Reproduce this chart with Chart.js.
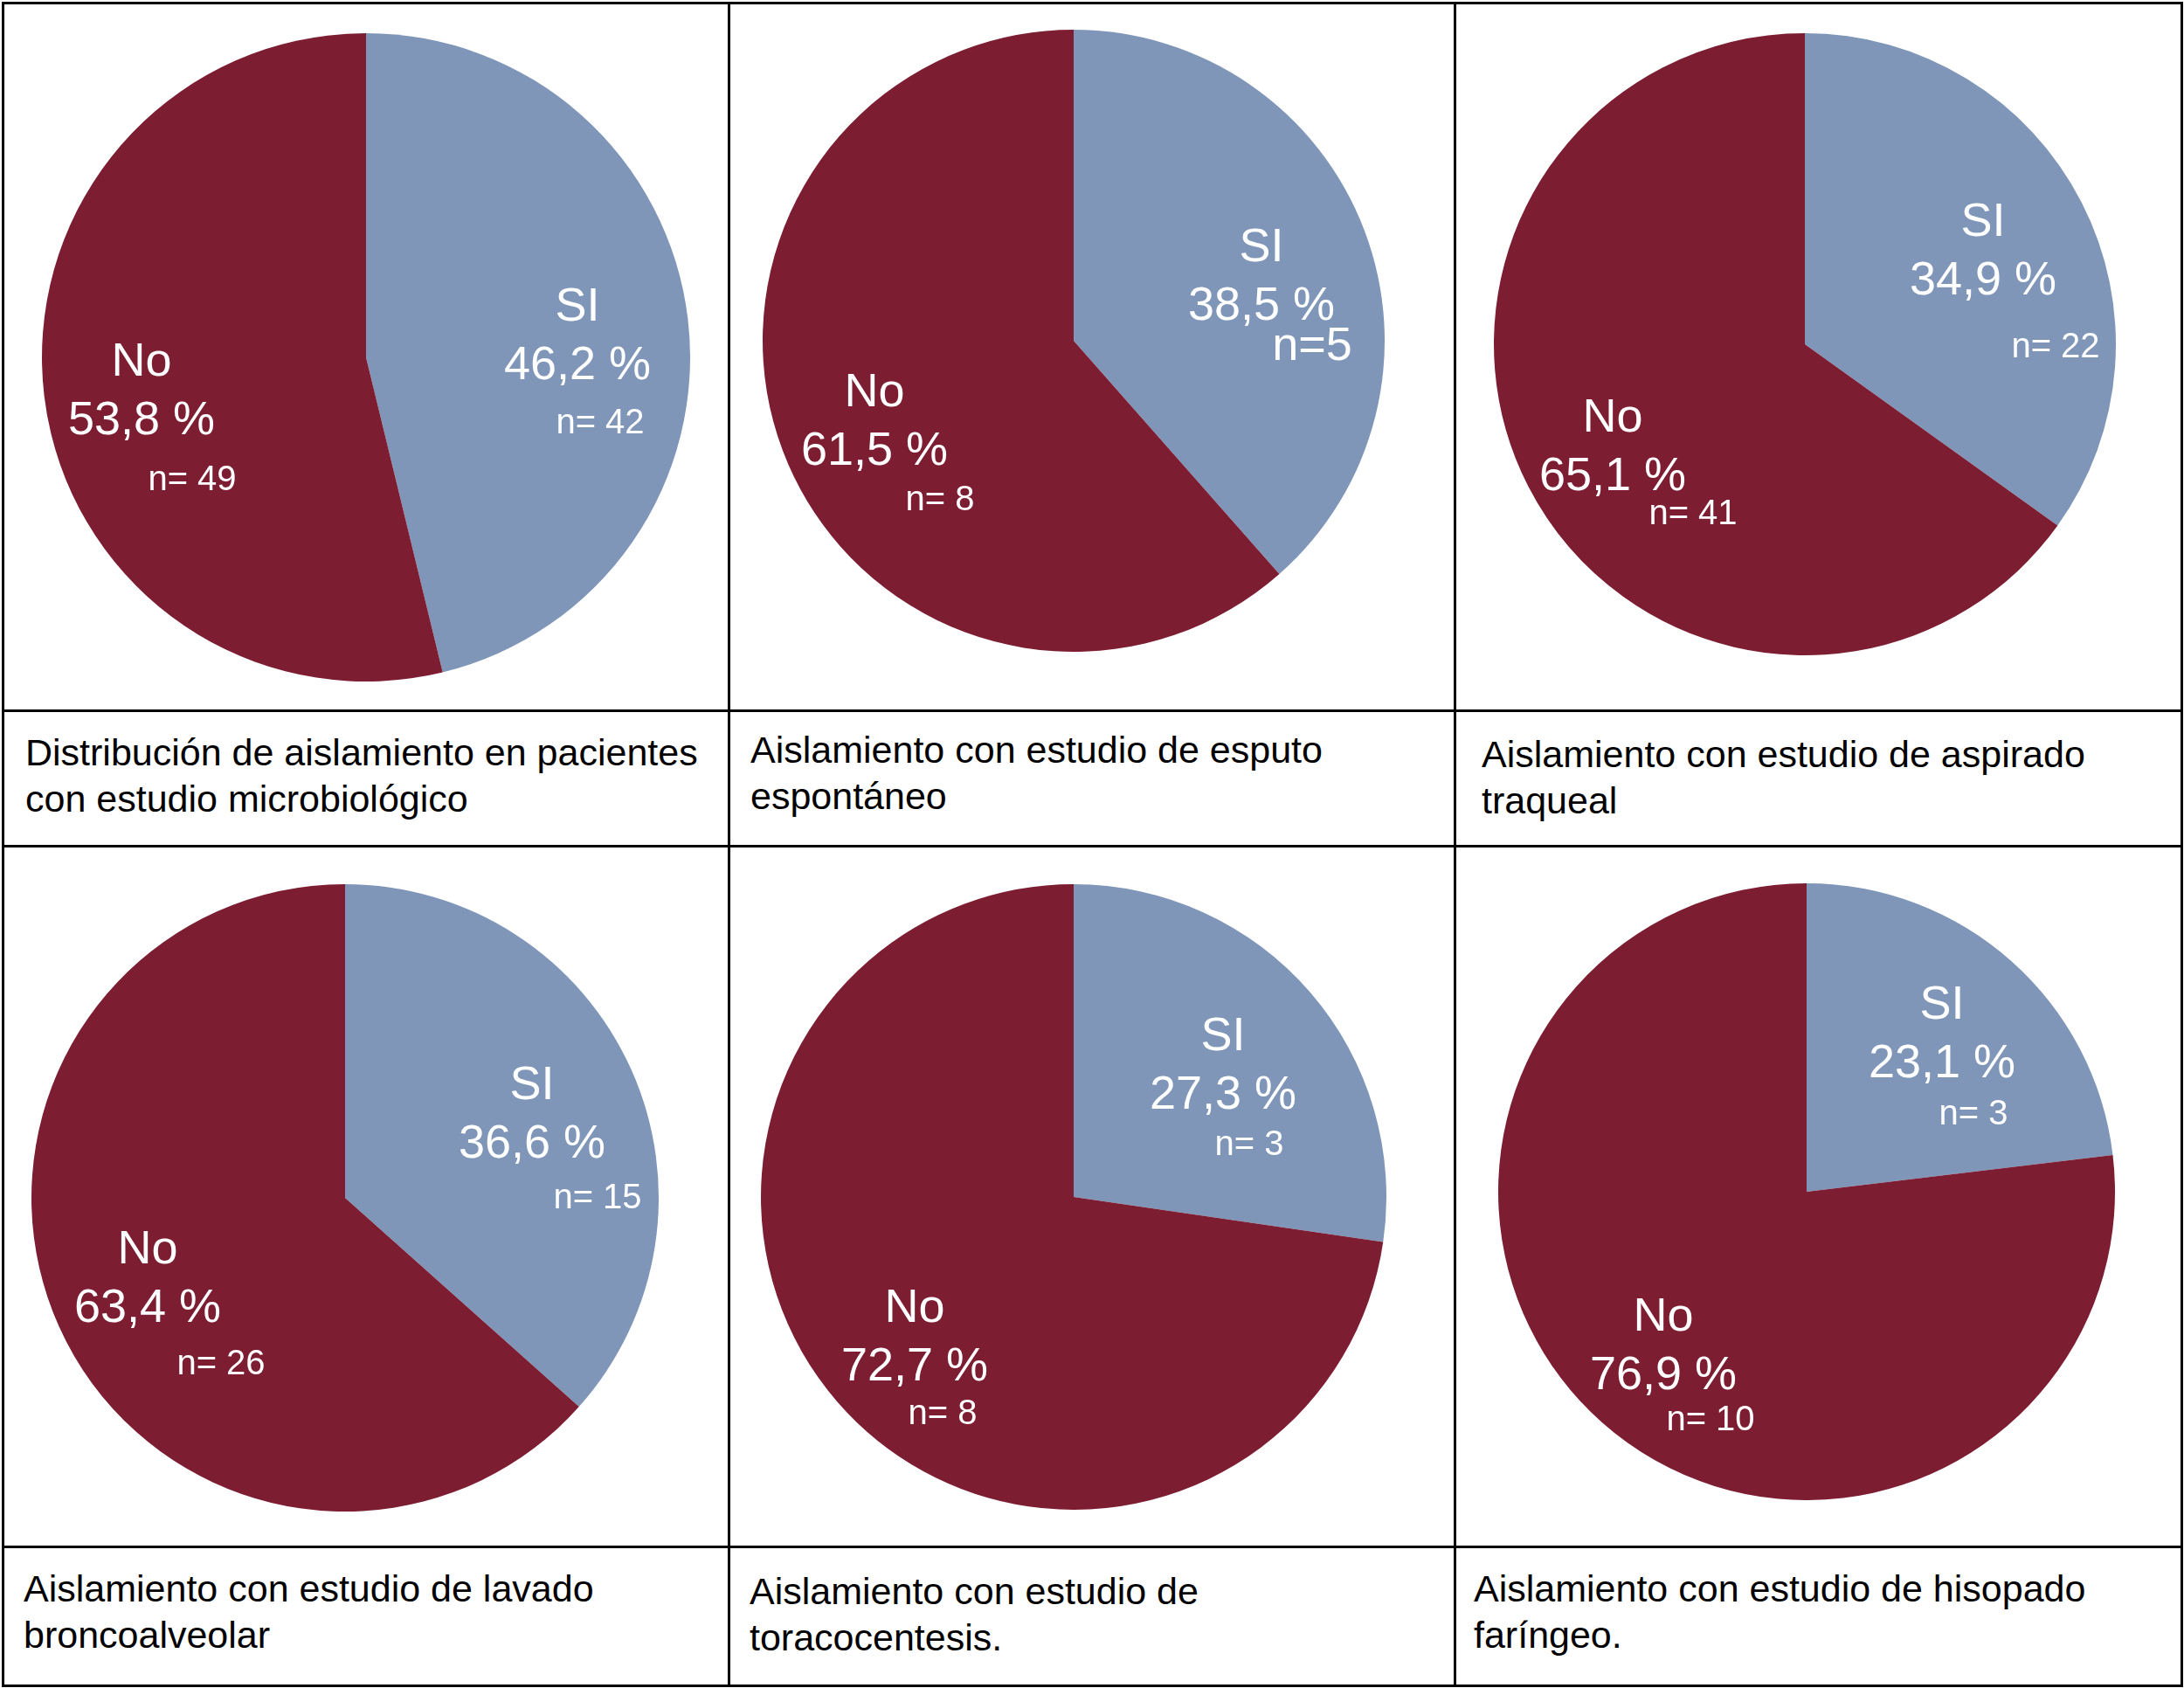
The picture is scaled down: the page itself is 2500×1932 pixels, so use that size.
<!DOCTYPE html>
<html>
<head>
<meta charset="utf-8">
<script src="https://cdn.jsdelivr.net/npm/chart.js@4"></script>
<style>
  html, body { margin: 0; padding: 0; background: #fff; }
  #page { position: relative; width: 2500px; height: 1932px; overflow: hidden; font-family: "Liberation Sans", Arial, Helvetica, sans-serif; }
  .hline, .vline { position: absolute; background: #000; }
  .pie { position: absolute; }
  .caption { position: absolute; font-size: 43px; line-height: 53px; color: #000; white-space: pre-line; }
</style>
</head>
<body>
<div id="page"></div>
<script>
// data, one entry per panel
let categories = ["SI", "No"];
let siPercent = [46.2, 38.5, 34.9, 36.6, 27.3, 23.1];
let noPercent = [53.8, 61.5, 65.1, 63.4, 72.7, 76.9];
let siCount = [42, 5, 22, 15, 3, 3];
let noCount = [49, 8, 41, 26, 8, 10];
let captions = [
    "Distribución de aislamiento en pacientes\ncon estudio microbiológico",
    "Aislamiento con estudio de esputo\nespontáneo",
    "Aislamiento con estudio de aspirado\ntraqueal",
    "Aislamiento con estudio de lavado\nbroncoalveolar",
    "Aislamiento con estudio de\ntoracocentesis.",
    "Aislamiento con estudio de hisopado\nfaríngeo."
];

// layout (page px)
let pieBoxes = [
    {cx: 419, cy: 409, r: 371},
    {cx: 1229, cy: 390, r: 356},
    {cx: 2066, cy: 394, r: 356},
    {cx: 395, cy: 1371, r: 359},
    {cx: 1229, cy: 1370, r: 358},
    {cx: 2068, cy: 1364, r: 353}
];
// label offsets from the pie centre: name line and the "n=" line
let labelSpots = [
    {si: [242, -57], siN: [268, 76], no: [-257, 6], noN: [-199, 141]},
    {si: [215, -106], siN: [273, 7], no: [-228, 60], noN: [-153, 183], bigN: true},
    {si: [204, -139], siN: [287, 4], no: [-220, 85], noN: [-128, 195]},
    {si: [214, -128], siN: [289, 1], no: [-226, 60], noN: [-142, 191]},
    {si: [171, -183], siN: [201, -59], no: [-182, 128], noN: [-150, 249]},
    {si: [155, -213], siN: [191, -88], no: [-164, 144], noN: [-110, 262]}
];
let captionSpots = [[29, 835], [859, 832], [1696, 837], [27, 1792], [858, 1795], [1687, 1792]];
let hLines = [3, 813, 968, 1770, 1929];
let vLines = [3, 834, 1665, 2497];

const siColor = "#7f96b9";
const noColor = "#7d1d32";
const fontFamily = '"Liberation Sans", Arial, Helvetica, sans-serif';

const page = document.getElementById("page");

hLines.forEach(y => {
    let d = document.createElement("div");
    d.className = "hline";
    d.style.left = "2px"; d.style.width = "2497px";
    d.style.top = (y - 1.5) + "px"; d.style.height = "3px";
    page.appendChild(d);
});
vLines.forEach(x => {
    let d = document.createElement("div");
    d.className = "vline";
    d.style.top = "2px"; d.style.height = "1929px";
    d.style.left = (x - 1.5) + "px"; d.style.width = "3px";
    page.appendChild(d);
});

captions.forEach((text, i) => {
    let d = document.createElement("div");
    d.className = "caption";
    d.style.left = captionSpots[i][0] + "px";
    d.style.top = captionSpots[i][1] + "px";
    d.textContent = text;
    page.appendChild(d);
});

const fmt = v => v.toFixed(1).replace(".", ",") + " %";

const sliceLabels = {
    id: "sliceLabels",
    afterDraw(chart, args, opts) {
        const ctx = chart.ctx;
        const arc = chart.getDatasetMeta(0).data[0];
        const cx = arc.x, cy = arc.y;
        const spot = opts.spot;
        ctx.save();
        ctx.fillStyle = "#fff";
        ctx.textAlign = "center";
        ctx.textBaseline = "middle";
        const blocks = [
            {name: categories[0], pct: opts.si, n: opts.siN, at: spot.si, nAt: spot.siN},
            {name: categories[1], pct: opts.no, n: opts.noN, at: spot.no, nAt: spot.noN}
        ];
        blocks.forEach((b, k) => {
            ctx.font = "54px " + fontFamily;
            ctx.fillText(b.name, cx + b.at[0], cy + b.at[1]);
            ctx.fillText(fmt(b.pct), cx + b.at[0], cy + b.at[1] + 67);
            let big = k === 0 && spot.bigN;
            ctx.font = (big ? "54px " : "40px ") + fontFamily;
            ctx.fillText(big ? "n=" + b.n : "n= " + b.n, cx + b.nAt[0], cy + b.nAt[1]);
        });
        ctx.restore();
    }
};

pieBoxes.forEach((box, i) => {
    let wrap = document.createElement("div");
    wrap.className = "pie";
    wrap.style.left = (box.cx - box.r) + "px";
    wrap.style.top = (box.cy - box.r) + "px";
    wrap.style.width = (box.r * 2) + "px";
    wrap.style.height = (box.r * 2) + "px";
    let canvas = document.createElement("canvas");
    wrap.appendChild(canvas);
    page.appendChild(wrap);

    new Chart(canvas, {
        type: "pie",
        data: {
            labels: categories,
            datasets: [{
                data: [siPercent[i], noPercent[i]],
                backgroundColor: [siColor, noColor],
                borderWidth: 0,
                hoverOffset: 0,
                offset: 0
            }]
        },
        options: {
            responsive: true,
            maintainAspectRatio: false,
            animation: false,
            devicePixelRatio: 1,
            layout: {padding: 0},
            events: [],
            plugins: {
                legend: {display: false},
                tooltip: {enabled: false},
                sliceLabels: {
                    spot: labelSpots[i],
                    si: siPercent[i], no: noPercent[i],
                    siN: siCount[i], noN: noCount[i]
                }
            }
        },
        plugins: [sliceLabels]
    });
});
</script>
</body>
</html>
